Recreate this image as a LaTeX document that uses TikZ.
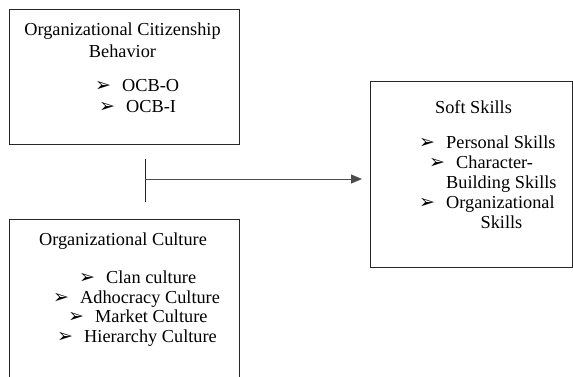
\documentclass[tikz,border=0pt]{standalone}
\usepackage{fontspec}
\setmainfont{Liberation Serif}
\newfontfamily\bulfont{DejaVu Sans}
\usetikzlibrary{positioning}
\usetikzlibrary{arrows.meta}
\newcommand{\itm}[1]{\makebox[27pt][l]{\bulfont\fontsize{19}{19}\selectfont ➢}#1}

\begin{document}
\begin{tikzpicture}[x=1pt,y=-1pt]
	\tikzset{
		boxnode/.style={rectangle, draw=black!85, line width=0.9pt, anchor=north west, inner sep=0pt},
		txtnode/.style={anchor=base west, inner sep=0pt, font=\fontsize{18.3}{20}\selectfont},
		headnode/.style={txtnode, anchor=base},
	}
	\clip (0,0) rectangle (573,376);
	% the three boxes
	\node[boxnode, minimum width=230pt, minimum height=135pt] (ocb) at (9,9) {};
	\node[boxnode, minimum width=230pt, minimum height=181pt] (culture) at (9,219) {};
	\node[boxnode, minimum width=202pt, minimum height=186pt] (soft) at (370,81) {};

	% Organizational Citizenship Behavior
	\node[headnode] (ocbtitle) at (122.5,35) {Organizational Citizenship};
	\node[headnode] (ocbtitleb) at (122.5,57) {Behavior};
	\node[txtnode] (ocbo) at (95,91) {\itm{OCB-O}};
	\node[txtnode] (ocbi) at (99,112) {\itm{OCB-I}};

	% Organizational Culture
	\node[headnode] (culttitle) at (123,245) {Organizational Culture};
	\node[txtnode] (clan) at (79,283) {\itm{Clan culture}};
	\node[txtnode] (adhoc) at (53,303) {\itm{Adhocracy Culture}};
	\node[txtnode] (market) at (68,322) {\itm{Market Culture}};
	\node[txtnode] (hier) at (57,342) {\itm{Hierarchy Culture}};

	% Soft Skills
	\node[headnode] (softtitle) at (473.5,113) {Soft Skills};
	\node[txtnode] (personal) at (419,148) {\itm{Personal Skills}};
	\node[txtnode] (charac) at (429,168) {\itm{Character-}};
	\node[txtnode] (building) at (446,188) {Building Skills};
	\node[txtnode] (orgsk) at (419,208) {\itm{Organizational}};
	\node[headnode] (orgskb) at (501.5,228) {Skills};

	% connector
	\coordinate (bartop) at (145,159);
	\coordinate (barbot) at (145,202);
	\coordinate (join) at (145,179);
	\draw[line width=0.9pt, black!85] (bartop) -- (barbot);
	\draw[-{Triangle[length=11pt,width=9pt]}, line width=0.9pt, black!70, shorten >=8pt] (join) -- (soft.west |- join);
\end{tikzpicture}
\end{document}
